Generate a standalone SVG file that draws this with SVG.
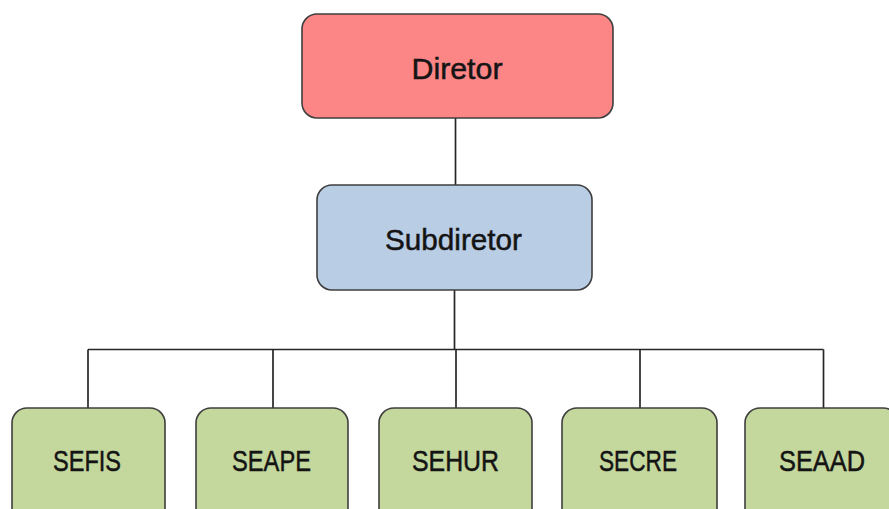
<svg xmlns="http://www.w3.org/2000/svg" width="889" height="509" viewBox="0 0 889 509">
  <style>
    .box { stroke: #3f3f3f; stroke-width: 1.6; }
    .dir { fill: #fc8585; }
    .sub { fill: #b9cde5; }
    .sec { fill: #c4d79c; }
    .lbl { font-family: "Liberation Sans", Arial, sans-serif; font-size: 30px; fill: #141414; stroke: #141414; stroke-width: 0.5; text-anchor: middle; }
    .wire { fill: none; stroke: #262626; stroke-width: 1.7; }
  </style>
  <rect width="889" height="509" fill="#ffffff"/>

  <g id="connectors">
    <line class="wire" x1="455.5" y1="118" x2="455.5" y2="185"/>
    <line class="wire" x1="454.5" y1="290" x2="454.5" y2="349.5"/>
    <line class="wire" x1="88" y1="349.5" x2="823.5" y2="349.5"/>
    <line class="wire" x1="88" y1="349.5" x2="88" y2="408"/>
    <line class="wire" x1="273" y1="349.5" x2="273" y2="408"/>
    <line class="wire" x1="456" y1="349.5" x2="456" y2="408"/>
    <line class="wire" x1="640" y1="349.5" x2="640" y2="408"/>
    <line class="wire" x1="823.5" y1="349.5" x2="823.5" y2="408"/>
  </g>

  <g id="diretor">
    <rect class="box dir" x="302" y="14" width="311" height="104" rx="15"/>
    <text class="lbl" x="457" y="79" textLength="91" lengthAdjust="spacingAndGlyphs">Diretor</text>
  </g>

  <g id="subdiretor">
    <rect class="box sub" x="317" y="185" width="275" height="105" rx="15"/>
    <text class="lbl" x="453.5" y="250" textLength="137" lengthAdjust="spacingAndGlyphs">Subdiretor</text>
  </g>

  <g id="sefis">
    <rect class="box sec" x="12" y="408" width="153" height="120" rx="15"/>
    <text class="lbl" x="87" y="471" textLength="68" lengthAdjust="spacingAndGlyphs">SEFIS</text>
  </g>

  <g id="seape">
    <rect class="box sec" x="196" y="408" width="152" height="120" rx="15"/>
    <text class="lbl" x="271.5" y="471" textLength="79" lengthAdjust="spacingAndGlyphs">SEAPE</text>
  </g>

  <g id="sehur">
    <rect class="box sec" x="379" y="408" width="153" height="120" rx="15"/>
    <text class="lbl" x="455.5" y="471" textLength="87" lengthAdjust="spacingAndGlyphs">SEHUR</text>
  </g>

  <g id="secre">
    <rect class="box sec" x="562" y="408" width="155" height="120" rx="15"/>
    <text class="lbl" x="638" y="471" textLength="78" lengthAdjust="spacingAndGlyphs">SECRE</text>
  </g>

  <g id="seaad">
    <rect class="box sec" x="745" y="408" width="153" height="120" rx="15"/>
    <text class="lbl" x="822" y="471" textLength="86" lengthAdjust="spacingAndGlyphs">SEAAD</text>
  </g>
</svg>
